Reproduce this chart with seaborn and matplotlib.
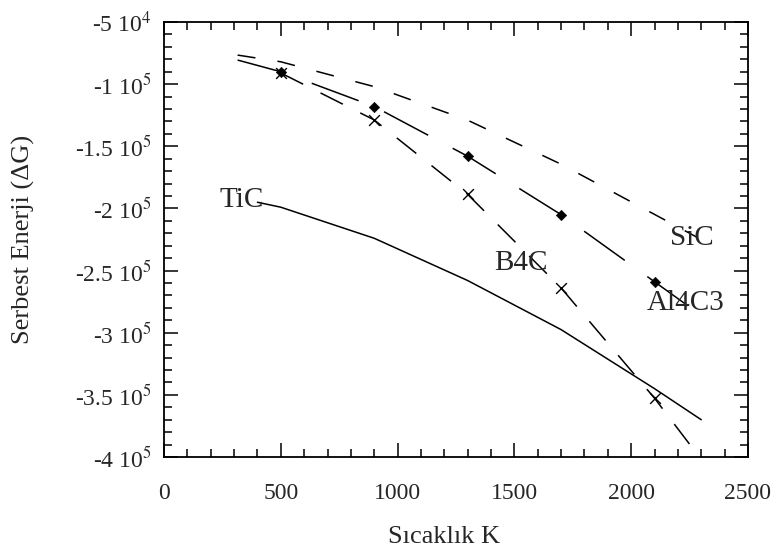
import numpy as np
import pandas as pd
import matplotlib
matplotlib.use("Agg")
import matplotlib.pyplot as plt
from matplotlib.ticker import MultipleLocator, FixedLocator, FixedFormatter
import seaborn as sns

# Free energy of formation of carbides vs temperature
tic_T = [400, 500, 900, 1300, 1700, 2100, 2300]
tic_G = [-1.95e5, -1.99e5, -2.24e5, -2.58e5, -2.975e5, -3.45e5, -3.70e5]

sic_T = [315, 500, 900, 1300, 1700, 2100, 2280]
sic_G = [-7.66e4, -8.2e4, -1.02e5, -1.29e5, -1.644e5, -2.048e5, -2.23e5]

al4c3_T = [315, 500, 900, 1300, 1700, 2100, 2270]
al4c3_G = [-8.06e4, -9.0e4, -1.18e5, -1.58e5, -2.05e5, -2.59e5, -2.82e5]

b4c_T = [500, 900, 1300, 1700, 2100, 2300]
b4c_G = [-9.1e4, -1.288e5, -1.887e5, -2.64e5, -3.527e5, -4.02e5]

# computed points shown with markers
al4c3_pts_T = [500, 900, 1300, 1700, 2100]
al4c3_pts_G = [-9.0e4, -1.18e5, -1.58e5, -2.05e5, -2.59e5]
b4c_pts_T = [500, 900, 1300, 1700, 2100]
b4c_pts_G = [-9.1e4, -1.288e5, -1.887e5, -2.64e5, -3.527e5]

x_ticks = [0, 500, 1000, 1500, 2000, 2500]
x_tick_labels = ["0", "500", "1000", "1500", "2000", "2500"]
y_ticks = [-5e4, -1e5, -1.5e5, -2e5, -2.5e5, -3e5, -3.5e5, -4e5]
y_tick_labels = ["-5 10$^4$", "-1 10$^5$", "-1.5 10$^5$", "-2 10$^5$",
                 "-2.5 10$^5$", "-3 10$^5$", "-3.5 10$^5$", "-4 10$^5$"]

sns.set_style("ticks")
plt.rcParams["font.family"] = ["Liberation Serif", "DejaVu Serif"]
plt.rcParams["mathtext.fontset"] = "stix"
plt.rcParams["lines.scale_dashes"] = False

frames = []
for name, T, G in [("TiC", tic_T, tic_G), ("SiC", sic_T, sic_G),
                   ("Al4C3", al4c3_T, al4c3_G), ("B4C", b4c_T, b4c_G)]:
    frames.append(pd.DataFrame({"T": T, "G": G, "compound": name}))
curves = pd.concat(frames, ignore_index=True)

fig = plt.figure(figsize=(7.74, 5.56), dpi=100)
ax = fig.add_axes([0.2119, 0.178, 0.7545, 0.7824])

black = {"TiC": "black", "SiC": "black", "Al4C3": "black", "B4C": "black"}
dash_styles = {"TiC": "", "SiC": (13, 16), "Al4C3": (36, 20), "B4C": (18, 14)}
sns.lineplot(data=curves, x="T", y="G", hue="compound", style="compound",
             palette=black, dashes=dash_styles, sort=False, estimator=None,
             linewidth=1.1, legend=False, ax=ax)

sns.scatterplot(x=b4c_pts_T, y=b4c_pts_G, marker="x", s=60, color="black",
                linewidth=1.0, ax=ax, zorder=3)
sns.scatterplot(x=al4c3_pts_T, y=al4c3_pts_G, marker="D", s=28, color="black",
                edgecolor="black", ax=ax, zorder=4)

ax.set_xlim(0, 2500)
ax.set_ylim(-4e5, -5e4)

ax.xaxis.set_major_locator(FixedLocator(x_ticks))
ax.xaxis.set_major_formatter(FixedFormatter(x_tick_labels))
ax.xaxis.set_minor_locator(MultipleLocator(100))
ax.yaxis.set_major_locator(FixedLocator(y_ticks))
ax.yaxis.set_major_formatter(FixedFormatter(y_tick_labels))
ax.yaxis.set_minor_locator(MultipleLocator(1e4))

ax.tick_params(which="both", direction="in", top=True, right=True,
               color="black", width=1.1)
ax.tick_params(which="major", length=10, labelsize=17)
ax.tick_params(axis="x", which="major", pad=19)
ax.tick_params(axis="y", which="major", pad=9)
ax.tick_params(which="minor", length=5.5)
for sp in ax.spines.values():
    sp.set_visible(True)
    sp.set_linewidth(1.3)
    sp.set_color("black")

ax.set_xlabel("Sıcaklık K", fontsize=19)
ax.set_ylabel("Serbest Enerji (ΔG)", fontsize=19)
ax.xaxis.set_label_coords(0.479, -0.184)
ax.yaxis.set_label_coords(-0.241, 0.5)
ax.xaxis.label.set_va("center")
ax.yaxis.label.set_va("center")

ax.text(332, -1.93e5, "TiC", fontsize=21, ha="center", va="center")
ax.text(1527, -2.435e5, "B4C", fontsize=21, ha="center", va="center")
ax.text(2261, -2.234e5, "SiC", fontsize=21, ha="center", va="center")
ax.text(2234, -2.758e5, "Al4C3", fontsize=21, ha="center", va="center")

fig.savefig("out.png", dpi=100, facecolor="white")
